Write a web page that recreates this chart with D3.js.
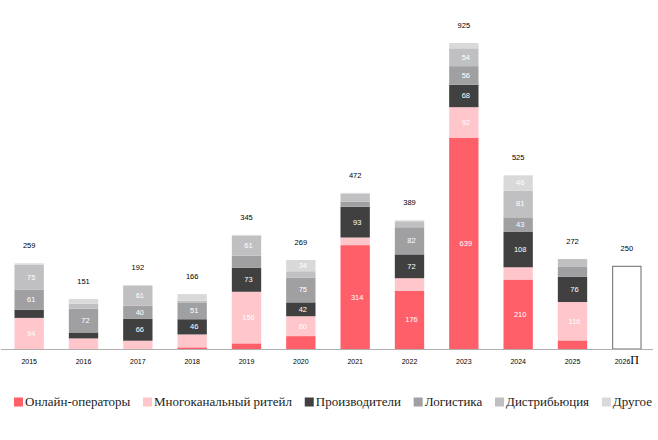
<!DOCTYPE html>
<meta charset="utf-8" />
<script src="https://d3js.org/d3.v7.min.js"></script>
<body style="margin: 0; background: #ffffff">
  <div id="chart"></div>
  <script>
    // years and stacked series
    var years = ["2015", "2016", "2017", "2018", "2019", "2020", "2021", "2022", "2023", "2024", "2025"];
    var forecastYear = "2026П";
    var forecastValue = 250;

    var online = [0, 0, 0, 5, 17, 39, 314, 176, 639, 210, 26];
    var omni = [94, 32, 25, 39, 156, 60, 23, 38, 92, 37, 116];
    var producers = [25, 18, 66, 46, 73, 42, 93, 72, 68, 108, 76];
    var logistics = [61, 72, 40, 51, 36, 75, 15, 82, 56, 43, 30];
    var distribution = [75, 15, 61, 5, 61, 19, 25, 18, 54, 81, 24];
    var other = [4, 14, 0, 20, 2, 34, 2, 3, 16, 46, 0];

    var seriesNames = ["Онлайн-операторы", "Многоканальный ритейл", "Производители", "Логистика", "Дистрибьюция", "Другое"];
    var seriesValues = [online, omni, producers, logistics, distribution, other];
    var colors = ["#ff5f69", "#ffc6cb", "#404040", "#a0a0a3", "#c0c0c2", "#d9d9d9"];

    var labelMin = 40;
    var extraLabels = [["2020", "Другое"]];

    var width = 658, height = 440;
    var baseY = 349, topY = 43;

    var svg = d3.select("#chart").append("svg")
      .attr("width", width)
      .attr("height", height);

    var rows = years.map(function (y, i) {
      var r = { year: y };
      seriesNames.forEach(function (s, j) { r[s] = seriesValues[j][i]; });
      return r;
    });
    var totals = rows.map(function (r) { return d3.sum(seriesNames, function (s) { return r[s]; }); });

    var x = d3.scaleBand()
      .domain(years.concat([forecastYear]))
      .range([2, 654])
      .paddingInner(0.46)
      .paddingOuter(0.23);

    var y = d3.scaleLinear()
      .domain([0, d3.max(totals)])
      .range([baseY, topY]);

    var color = d3.scaleOrdinal().domain(seriesNames).range(colors);

    var stacked = d3.stack().keys(seriesNames)(rows);

    var layers = svg.append("g")
      .selectAll("g")
      .data(stacked)
      .enter()
      .append("g")
      .attr("fill", function (d) { return color(d.key); });

    layers.selectAll("rect")
      .data(function (d) { return d; })
      .enter()
      .append("rect")
      .attr("x", function (d) { return x(d.data.year); })
      .attr("y", function (d) { return y(d[1]); })
      .attr("width", x.bandwidth())
      .attr("height", function (d) { return y(d[0]) - y(d[1]); });

    // value labels inside segments
    stacked.forEach(function (layer) {
      layer.forEach(function (d) {
        var v = d[1] - d[0];
        var extra = extraLabels.some(function (e) { return e[0] === d.data.year && e[1] === layer.key; });
        if (v < labelMin && !extra) return;
        svg.append("text")
          .attr("x", x(d.data.year) + x.bandwidth() / 2 + 2)
          .attr("y", (y(d[0]) + y(d[1])) / 2 + 2.5)
          .attr("text-anchor", "middle")
          .style("font-family", "Liberation Sans, Arial, sans-serif")
          .style("font-size", "7.5px")
          .style("fill", "#ffffff")
          .text(v);
      });
    });

    // forecast bar
    svg.append("rect")
      .attr("x", x(forecastYear) + 0.5)
      .attr("y", y(forecastValue))
      .attr("width", x.bandwidth() - 1)
      .attr("height", baseY - y(forecastValue))
      .attr("fill", "#ffffff")
      .attr("stroke", "#6b6b6b")
      .attr("stroke-width", 1);

    // totals above bars
    var totalData = years.map(function (yr, i) { return { year: yr, v: totals[i] }; })
      .concat([{ year: forecastYear, v: forecastValue }]);
    svg.selectAll(".total")
      .data(totalData)
      .enter()
      .append("text")
      .attr("class", "total")
      .attr("x", function (d) { return x(d.year) + x.bandwidth() / 2; })
      .attr("y", function (d) { return y(d.v) - 15; })
      .attr("text-anchor", "middle")
      .style("font-family", "Liberation Sans, Arial, sans-serif")
      .style("font-size", "7.5px")
      .style("fill", "#000000")
      .text(function (d) { return d.v; });

    // axis line
    svg.append("line")
      .attr("x1", 1).attr("x2", 653)
      .attr("y1", baseY + 0.5).attr("y2", baseY + 0.5)
      .attr("stroke", "#b0b0b0")
      .attr("stroke-width", 1.2);

    // year labels
    var yl = svg.selectAll(".yr")
      .data(years.concat([forecastYear]))
      .enter()
      .append("text")
      .attr("class", "yr")
      .attr("x", function (d) { return x(d) + x.bandwidth() / 2; })
      .attr("y", 364)
      .attr("text-anchor", "middle")
      .style("font-family", "Liberation Sans, Arial, sans-serif")
      .style("font-size", "7px")
      .style("fill", "#000000");
    yl.each(function (d) {
      var t = d3.select(this);
      if (d === forecastYear) {
        t.append("tspan").text(d.slice(0, 4));
        t.append("tspan")
          .style("font-family", "Liberation Serif, serif")
          .style("font-size", "12px")
          .text(d.slice(4));
      } else {
        t.text(d);
      }
    });

    // legend
    var legend = svg.append("g");
    var items = legend.selectAll("g")
      .data(seriesNames)
      .enter()
      .append("g");
    items.append("rect")
      .attr("width", 9)
      .attr("height", 9)
      .attr("y", 397.5)
      .attr("fill", function (d) { return color(d); });
    items.append("text")
      .attr("x", 11)
      .attr("y", 406)
      .style("font-family", "Liberation Serif, Times New Roman, serif")
      .style("font-size", "13px")
      .style("fill", "#222222")
      .text(function (d) { return d; });

    var widths = [];
    items.select("text").each(function () { widths.push(this.getComputedTextLength()); });
    var startX = 14, endX = 652;
    var used = d3.sum(widths) + widths.length * 11;
    var gap = (endX - startX - used) / (widths.length - 1);
    var cx = startX;
    items.each(function (d, i) {
      d3.select(this).attr("transform", "translate(" + cx + ",0)");
      cx += 11 + widths[i] + gap;
    });
  </script>
</body>
